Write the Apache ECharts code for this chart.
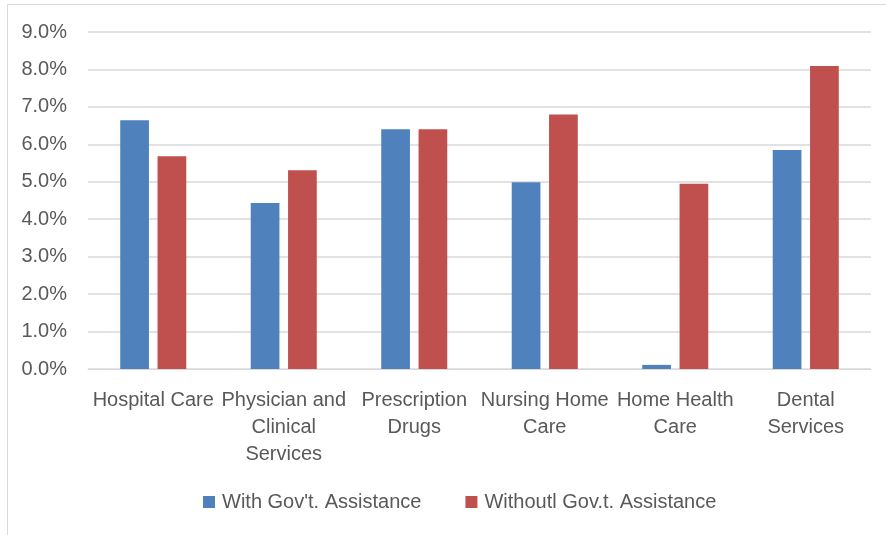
<!DOCTYPE html>
<html><head><meta charset="utf-8">
<script src="https://cdn.jsdelivr.net/npm/echarts@6/dist/echarts.min.js"></script>
<style>html,body{margin:0;padding:0;background:#fff}#c{width:886px;height:535px}</style>
</head><body><div id="c"></div>
<script>
const categories = ["Hospital Care", "Physician and Clinical Services", "Prescription Drugs", "Nursing Home Care", "Home Health Care", "Dental Services"];
const tickLabels = ["Hospital Care", "Physician and\nClinical\nServices", "Prescription\nDrugs", "Nursing Home\nCare", "Home Health\nCare", "Dental\nServices"];
const withGov = [6.64, 4.43, 6.40, 4.99, 0.11, 5.85];
const withoutGov = [5.68, 5.31, 6.40, 6.80, 4.95, 8.09];
const seriesNames = ["With Gov't. Assistance", "Withoutl Gov.t. Assistance"];
const yTicks = [0, 1, 2, 3, 4, 5, 6, 7, 8, 9];

const FONT = "Liberation Sans";
const chart = echarts.init(document.getElementById('c'));
chart.setOption({
  animation: false,
  textStyle: { fontFamily: FONT, color: '#595959' },
  graphic: [{ type: 'rect', shape: { x: 7.5, y: 4.5, width: 900, height: 600 }, style: { fill: 'none', stroke: '#d9d9d9', lineWidth: 1 }, silent: true }],
  grid: { left: 88, right: 15, top: 32, bottom: 166 },
  legend: {
    bottom: 18, left: 198, itemWidth: 12, itemHeight: 12, itemGap: 44,
    textStyle: { fontFamily: FONT, fontSize: 20, color: '#595959', padding: [0, 0, 0, 2] },
    data: seriesNames.map(n => ({ name: n, icon: 'rect' }))
  },
  xAxis: {
    type: 'category', data: categories,
    axisLine: { lineStyle: { color: '#d9d9d9', width: 1 } },
    axisTick: { show: false },
    axisLabel: { interval: 0, margin: 18, fontSize: 20, lineHeight: 27, color: '#595959', fontFamily: FONT,
      formatter: (v, i) => tickLabels[i] }
  },
  yAxis: {
    type: 'value', min: yTicks[0], max: yTicks[yTicks.length - 1], interval: 1,
    axisLine: { show: false }, axisTick: { show: false },
    splitLine: { lineStyle: { color: '#d9d9d9', width: 1.5 } },
    axisLabel: { margin: 21, fontSize: 20, color: '#595959', fontFamily: FONT, formatter: v => v.toFixed(1) + '%' }
  },
  series: [
    { name: seriesNames[0], type: 'bar', data: withGov, barWidth: '22%', barGap: '30%', itemStyle: { color: '#4F81BD' } },
    { name: seriesNames[1], type: 'bar', data: withoutGov, barWidth: '22%', barGap: '30%', itemStyle: { color: '#C0504D' } }
  ]
});
</script></body></html>
